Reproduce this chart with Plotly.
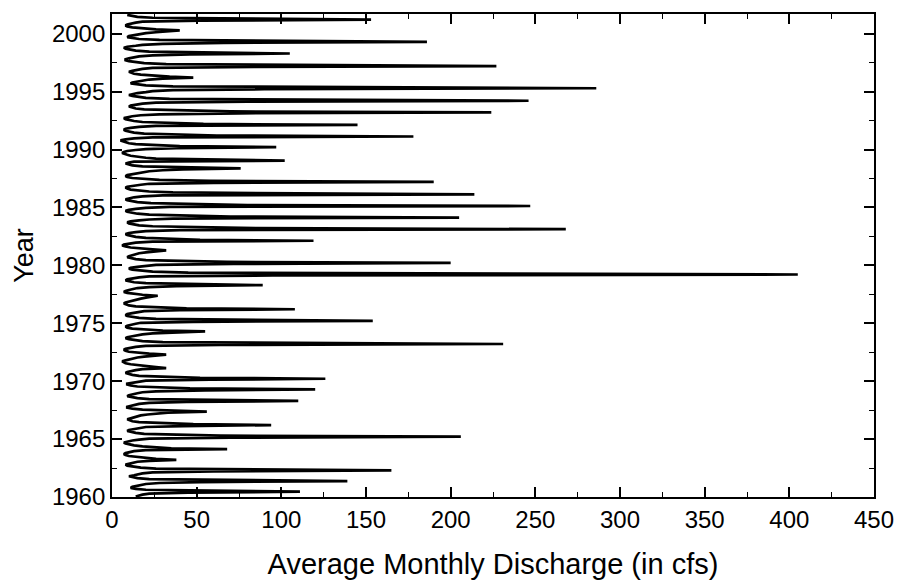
import plotly.graph_objects as go

# Average monthly discharge (cfs), Jan..Dec for each year
start_year = 1960
q_1960s = [
    14, 16, 18, 22, 45, 111, 38, 20, 14, 11, 12, 15,   # 1960
    17, 20, 28, 52, 139, 44, 22, 15, 11, 10, 13, 16,   # 1961
    18, 24, 60, 165, 58, 26, 17, 12, 9, 8, 11, 14,     # 1962
    15, 22, 38, 26, 19, 14, 10, 8, 7, 8, 10, 13,       # 1963
    20, 68, 35, 24, 18, 13, 10, 8, 7, 9, 12, 16,       # 1964
    22, 70, 206, 64, 30, 19, 14, 11, 9, 10, 14, 18,    # 1965
    20, 42, 94, 48, 25, 16, 12, 10, 9, 11, 13, 15,     # 1966
    17, 21, 26, 33, 56, 30, 18, 12, 9, 9, 11, 14,      # 1967
    16, 22, 44, 110, 40, 22, 15, 11, 9, 10, 12, 15,    # 1968
    18, 26, 55, 120, 46, 24, 15, 11, 9, 9, 12, 16,     # 1969
]
q_1970s = [
    20, 58, 126, 52, 26, 16, 12, 9, 8, 9, 11, 14,      # 1970
    18, 32, 26, 20, 15, 11, 8, 7, 6, 8, 10, 13,        # 1971
    15, 19, 24, 32, 22, 15, 10, 8, 7, 8, 11, 14,       # 1972
    20, 64, 231, 70, 30, 18, 13, 10, 8, 9, 12, 15,     # 1973
    18, 24, 36, 55, 30, 18, 12, 9, 8, 9, 11, 14,       # 1974
    17, 48, 154, 56, 26, 16, 11, 9, 8, 9, 12, 15,      # 1975
    19, 40, 108, 44, 22, 14, 10, 8, 7, 8, 10, 13,      # 1976
    14, 17, 20, 24, 27, 18, 12, 9, 7, 8, 10, 12,       # 1977
    15, 22, 38, 89, 36, 20, 13, 10, 8, 9, 12, 16,      # 1978
    22, 95, 405, 120, 45, 24, 16, 12, 10, 11, 15, 20,  # 1979
]
q_1980s = [
    26, 72, 200, 68, 32, 20, 14, 11, 9, 10, 12, 15,    # 1980
    16, 20, 25, 32, 24, 16, 11, 8, 6, 7, 10, 14,       # 1981
    24, 119, 52, 30, 20, 14, 10, 9, 8, 10, 14, 20,     # 1982
    40, 268, 85, 40, 24, 16, 12, 10, 9, 11, 16, 22,    # 1983
    36, 205, 70, 36, 22, 15, 11, 9, 8, 10, 14, 20,     # 1984
    34, 247, 80, 38, 23, 15, 11, 9, 8, 10, 13, 18,     # 1985
    30, 214, 72, 36, 22, 15, 11, 9, 8, 9, 12, 17,      # 1986
    22, 60, 190, 58, 28, 17, 12, 9, 8, 9, 12, 16,      # 1987
    17, 22, 30, 42, 76, 34, 18, 12, 9, 8, 10, 13,      # 1988
    102, 40, 26, 20, 15, 11, 9, 7, 6, 7, 9, 14,        # 1989
]
q_1990s = [
    20, 38, 97, 40, 22, 14, 10, 8, 6, 5, 8, 13,        # 1990
    24, 178, 62, 30, 19, 13, 10, 8, 7, 8, 11, 16,      # 1991
    26, 145, 54, 28, 18, 13, 10, 8, 7, 9, 12, 17,      # 1992
    28, 75, 224, 70, 32, 19, 14, 11, 10, 11, 14, 18,   # 1993
    26, 80, 246, 74, 34, 20, 15, 12, 10, 12, 15, 20,   # 1994
    24, 36, 90, 286, 88, 36, 20, 14, 11, 12, 15, 19,   # 1995
    22, 30, 48, 34, 24, 17, 13, 11, 10, 12, 15, 18,    # 1996
    24, 84, 227, 72, 32, 19, 13, 10, 8, 8, 10, 14,     # 1997
    16, 24, 46, 105, 42, 22, 14, 10, 8, 7, 9, 14,      # 1998
    18, 30, 66, 186, 62, 28, 16, 11, 9, 10, 13, 17,    # 1999
]
q_2000s = [
    20, 26, 32, 40, 26, 18, 12, 9, 8, 9, 11, 14,       # 2000
    18, 52, 153, 50, 24, 15, 11, 9,                    # 2001
]

x_ticks = [0, 50, 100, 150, 200, 250, 300, 350, 400, 450]
y_ticks = [1960, 1965, 1970, 1975, 1980, 1985, 1990, 1995, 2000]

discharge = q_1960s + q_1970s + q_1980s + q_1990s + q_2000s
year_time = [start_year + (i + 0.5) / 12 for i in range(len(discharge))]

fig = go.Figure(
    go.Scatter(
        x=discharge,
        y=year_time,
        mode="lines",
        line=dict(color="black", width=2.7),
        showlegend=False,
    )
)

font_main = "Liberation Sans, Arial, sans-serif"

fig.update_layout(
    width=906,
    height=588,
    margin=dict(l=112, r=21, t=13, b=91),
    paper_bgcolor="white",
    plot_bgcolor="white",
    font=dict(family=font_main, color="black"),
)

fig.update_xaxes(
    range=[0, 450],
    tickvals=x_ticks,
    ticktext=[str(v) for v in x_ticks],
    ticks="inside",
    ticklen=10,
    tickwidth=1.5,
    tickcolor="black",
    minor=dict(ticks="inside", dtick=25, ticklen=5, tickwidth=1.2, tickcolor="black"),
    showline=True,
    linecolor="black",
    linewidth=1.8,
    mirror="allticks",
    showgrid=False,
    zeroline=False,
    ticklabeloverflow="allow",
    tickfont=dict(size=24, family=font_main),
    title=dict(text="Average Monthly Discharge (in cfs)", font=dict(size=29, family=font_main), standoff=22),
)

fig.update_yaxes(
    range=[1960, 2001.7],
    tickvals=y_ticks,
    ticktext=[str(v) for v in y_ticks],
    ticks="inside",
    ticklen=10,
    tickwidth=1.5,
    tickcolor="black",
    minor=dict(ticks="inside", dtick=2.5, ticklen=5, tickwidth=1.2, tickcolor="black"),
    showline=True,
    linecolor="black",
    linewidth=1.8,
    mirror="allticks",
    showgrid=False,
    zeroline=False,
    tickfont=dict(size=24, family=font_main),
    title=dict(text="Year", font=dict(size=27, family=font_main), standoff=10),
)

fig.write_html("out.html")
